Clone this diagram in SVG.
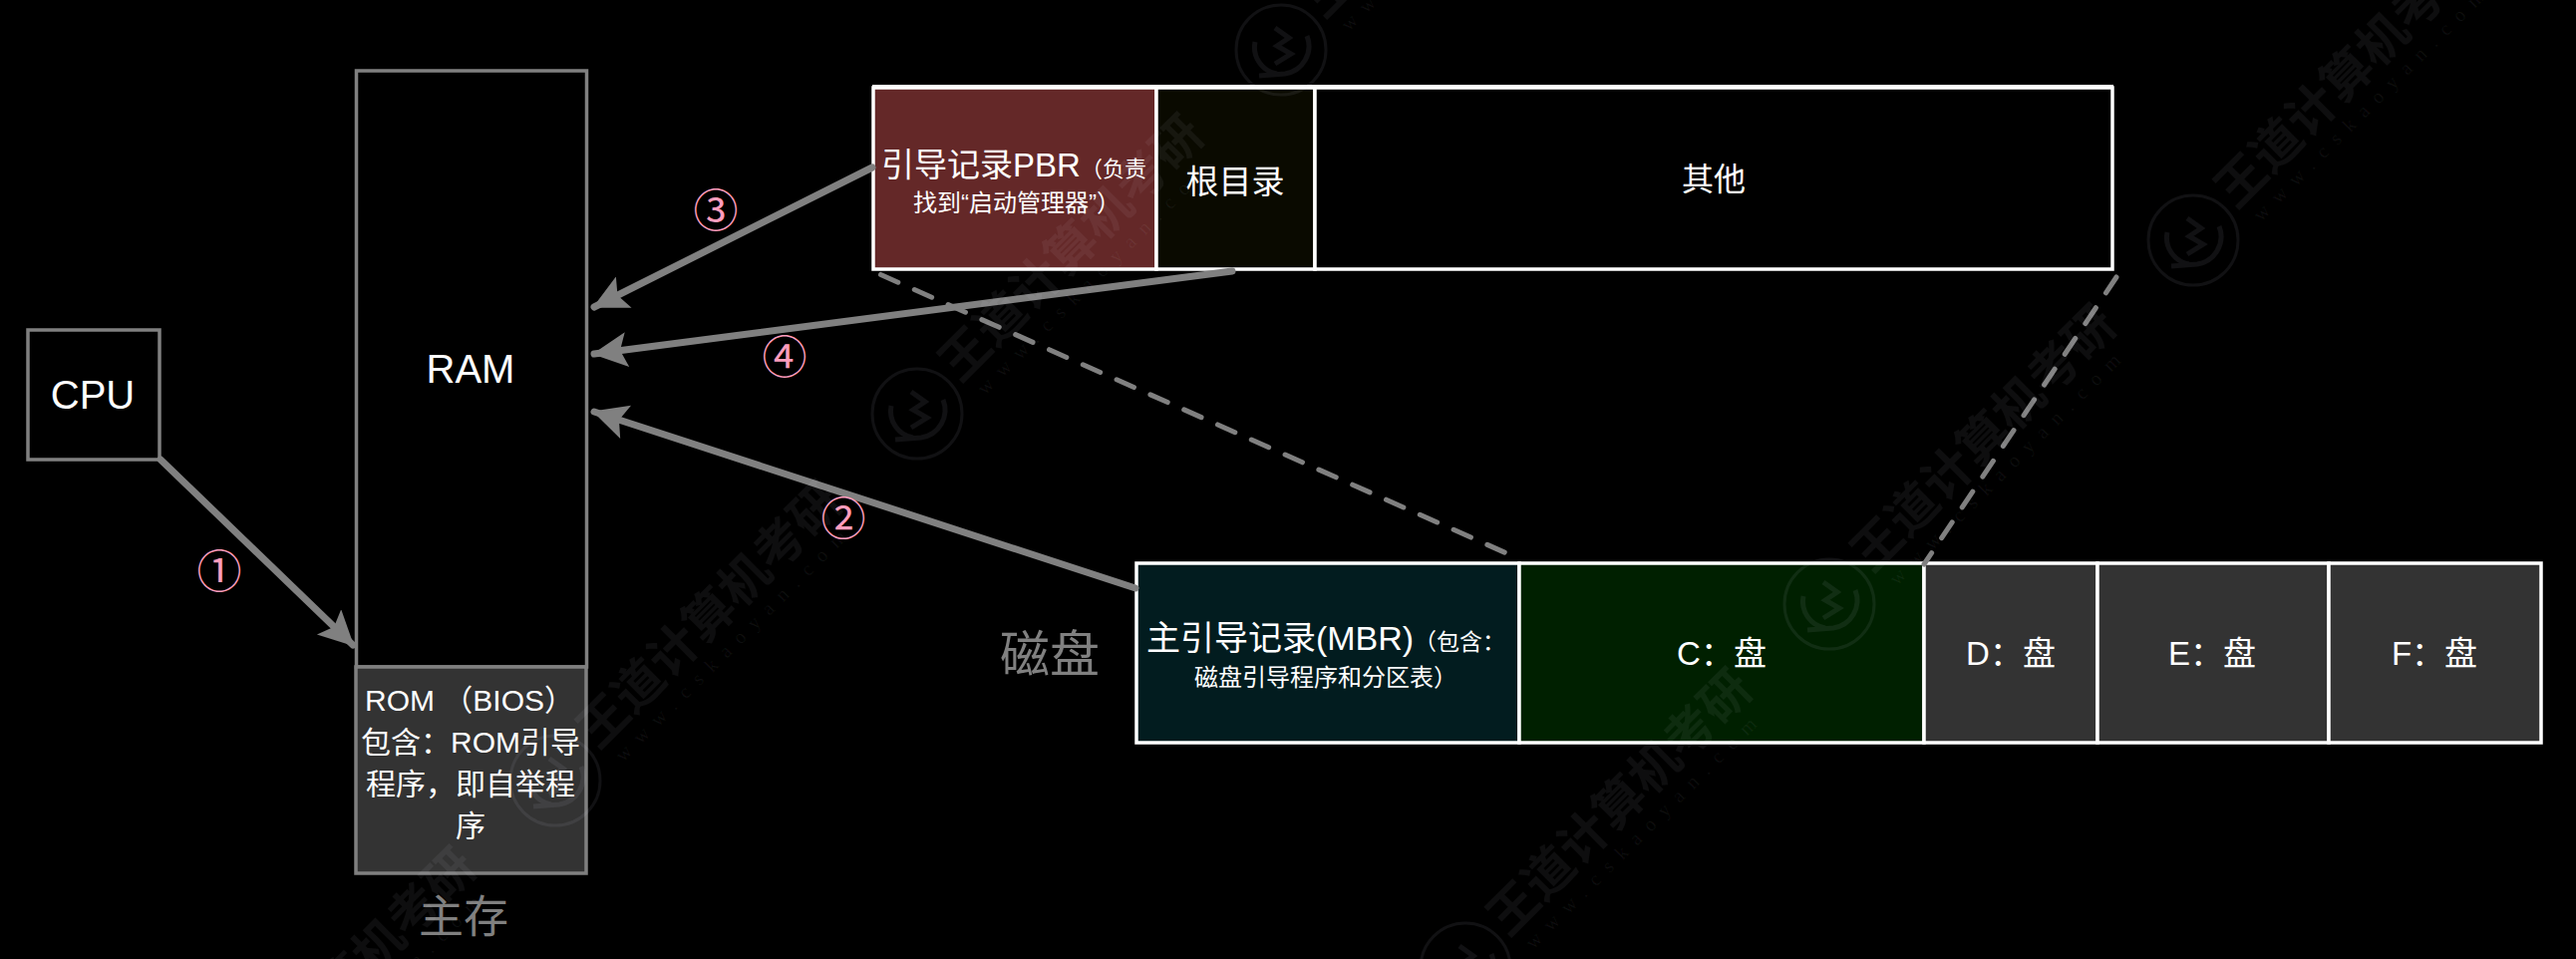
<svg xmlns="http://www.w3.org/2000/svg" xmlns:xlink="http://www.w3.org/1999/xlink" width="2584" height="962" viewBox="0 0 2584 962">
<style>
text{font-family:"Liberation Sans","Noto Sans CJK SC",sans-serif;fill:#fff;text-anchor:middle}
.g{stroke:#808080;stroke-width:3.5;fill:#000}
.w{stroke:#fff;stroke-width:3.5}
.gt{fill:#808080}
.n{fill:#ff9dbd;font-size:45px}
.a{stroke:#808080;stroke-width:7;fill:none;stroke-linecap:round;marker-end:url(#ah)}
.d{stroke:#808080;stroke-width:5;fill:none;stroke-dasharray:19 18;stroke-linecap:round}
.wm{fill:#e8e8ff;fill-opacity:.06;text-anchor:start}
.wt{font-size:50px;font-weight:700}
.wu{font-family:"Liberation Serif",serif;font-size:20px;letter-spacing:10.500px}
.wl{fill:none;stroke:#e8e8ff;stroke-opacity:.075;stroke-width:3}
</style>
<defs>
<marker id="ah" viewBox="0 0 10 10" refX="9.5" refY="5" markerWidth="5.5" markerHeight="5" orient="auto"><path d="M0 0L10 5L0 10L2 5Z" fill="#808080"/></marker>
<g id="wmk">
<circle cx="0" cy="0" r="45" class="wl"/>
<path d="M-26 -8A27 27 0 0 0 -4 24M26 -14A28 28 0 0 1 4 24L-22 26M-6 -22L8 -12L-4 -4L10 4L-6 14" class="wl" style="stroke-width:5"/>
<text class="wm wt" transform="translate(43 -30) rotate(-45)" x="0" y="0">王道计算机考研</text>
<text class="wm wu" transform="translate(68 -18) rotate(-45)" x="0" y="0">www.cskaoyan.com</text>
</g>
</defs>
<rect width="2584" height="962" fill="#000"/>
<g id="cpu"><rect class="g" x="28" y="331" width="132" height="130"/><text x="93" y="410" font-size="40">CPU</text></g>
<g id="ram"><rect class="g" x="357.500" y="71" width="231" height="598"/><text x="472" y="384" font-size="40">RAM</text></g>
<g id="rom"><rect x="357" y="669" width="231" height="207" fill="#333" stroke="#808080" stroke-width="3.500"/>
<text x="471" y="713" font-size="30">ROM （BIOS）</text>
<text x="472" y="755" font-size="30">包含：ROM引导</text>
<text x="472" y="797" font-size="30">程序，即自举程</text>
<text x="472" y="839" font-size="30">序</text></g>
<g id="main-memory-label"><text class="gt" x="465" y="936" font-size="45">主存</text></g>
<g id="disk-label"><text class="gt" x="1053" y="674" font-size="50">磁盘</text></g>
<g id="pbr"><rect class="w" x="876" y="88" width="284" height="182" fill="#642828"/>
<text x="1017" y="177" font-size="33"><tspan>引导记录PBR</tspan><tspan font-size="22">（负责</tspan></text>
<text x="1020" y="212" font-size="24">找到“启动管理器”）</text></g>
<g id="root-dir"><rect class="w" x="1160" y="88" width="159" height="182" fill="#0a0a00"/><text x="1239" y="194" font-size="33">根目录</text></g>
<g id="other"><rect class="w" x="1319" y="88" width="800" height="182" fill="#000"/><text x="1719" y="191" font-size="32">其他</text></g>
<path d="M875 87H2120" stroke="#fff" stroke-width="4"/>
<g id="mbr"><rect class="w" x="1140" y="565" width="384" height="180" fill="#021c1f"/>
<text x="1330" y="652" font-size="34"><tspan>主引导记录(MBR)</tspan><tspan font-size="23">（包含：</tspan></text>
<text x="1330" y="688" font-size="24">磁盘引导程序和分区表）</text></g>
<g id="disk-c"><rect class="w" x="1524" y="565" width="406" height="180" fill="#002000"/><text x="1727" y="667" font-size="33">C：盘</text></g>
<g id="disk-d"><rect class="w" x="1930" y="565" width="174" height="180" fill="#333"/><text x="2017" y="667" font-size="33">D：盘</text></g>
<g id="disk-e"><rect class="w" x="2104" y="565" width="232" height="180" fill="#333"/><text x="2219" y="667" font-size="33">E：盘</text></g>
<g id="disk-f"><rect class="w" x="2336" y="565" width="213" height="180" fill="#333"/><text x="2442" y="667" font-size="33">F：盘</text></g>
<g id="connectors">
<path class="a" d="M161 461L354 647"/>
<path class="a" d="M875 168L596 308"/>
<path class="a" d="M1236 272L596 355"/>
<path class="a" d="M1139 590L596 413"/>
<path class="d" d="M878 273L1518 558" style="stroke-dashoffset:-6"/>
<path class="d" d="M2123 278L1930 566"/>
</g>
<g id="labels"><text class="n" x="220" y="590">①</text><text class="n" x="718" y="228">③</text><text class="n" x="787" y="375">④</text><text class="n" x="846" y="537">②</text></g>
<g id="watermarks">
<use xlink:href="#wmk" href="#wmk" x="1285" y="50"/>
<use xlink:href="#wmk" href="#wmk" x="920" y="415"/>
<use xlink:href="#wmk" href="#wmk" x="557" y="783"/>
<use xlink:href="#wmk" href="#wmk" x="190" y="1150"/>
<use xlink:href="#wmk" href="#wmk" x="2200" y="241"/>
<use xlink:href="#wmk" href="#wmk" x="1835" y="606"/>
<use xlink:href="#wmk" href="#wmk" x="1470" y="971"/>
</g>
</svg>
